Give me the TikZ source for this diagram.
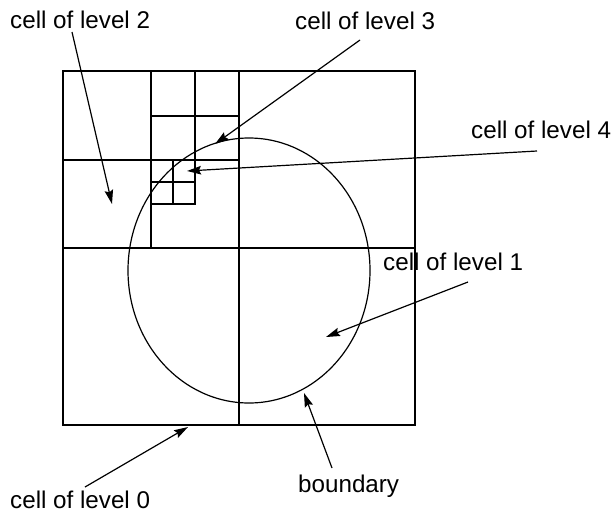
\documentclass[tikz,border=0pt]{standalone}
\usepackage{fontspec}
\setmainfont{Liberation Sans}
\usetikzlibrary{arrows.meta}
\begin{document}
\begin{tikzpicture}[x=1pt,y=-1pt,
  grid/.style={line width=1.3pt},
  bound/.style={line width=1.2pt},
  lbl/.style={anchor=base west, inner sep=0pt, font=\fontsize{24.2}{28}\selectfont},
  ptr/.style={line width=1.2pt, -{Stealth[length=14pt,width=8.5pt,inset=2pt]}}]
\useasboundingbox (0,0) rectangle (615,517);
% quadtree cells
\draw[grid] (63,71) rectangle (415,425);
\draw[grid] (239,71) -- (239,425);
\draw[grid] (63,248) -- (415,248);
\draw[grid] (151,71) -- (151,248);
\draw[grid] (63,160) -- (239,160);
\draw[grid] (195,71) -- (195,160);
\draw[grid] (151,116) -- (239,116);
\draw[grid] (195,160) -- (195,204) -- (151,204);
\draw[grid] (173,160) -- (173,204);
\draw[grid] (151,182) -- (195,182);
% boundary
\draw[bound] (249,270.5) ellipse [x radius=121, y radius=132.5];
% labels
\node[lbl] (l2) at (10,28) {cell of level 2};
\node[lbl] (l3) at (295,29) {cell of level 3};
\node[lbl] (l4) at (471,138) {cell of level 4};
\node[lbl] (l1) at (383,270) {cell of level 1};
\node[lbl] (lb) at (298,492) {boundary};
\node[lbl] (l0) at (10,508) {cell of level 0};
% arrow end points
\coordinate (s2) at (72,32);   \coordinate (t2) at (112,204);
\coordinate (s3) at (360,40);  \coordinate (t3) at (215,144);
\coordinate (s4) at (537,151); \coordinate (t4) at (187,171);
\coordinate (s1) at (468,282); \coordinate (t1) at (326,337);
\coordinate (sb) at (332,468); \coordinate (tb) at (304,393);
\coordinate (s0) at (85,487);  \coordinate (t0) at (188,427);
\draw[ptr] (s2) -- (t2);
\draw[ptr] (s3) -- (t3);
\draw[ptr] (s4) -- (t4);
\draw[ptr] (s1) -- (t1);
\draw[ptr] (sb) -- (tb);
\draw[ptr] (s0) -- (t0);
\end{tikzpicture}
\end{document}
